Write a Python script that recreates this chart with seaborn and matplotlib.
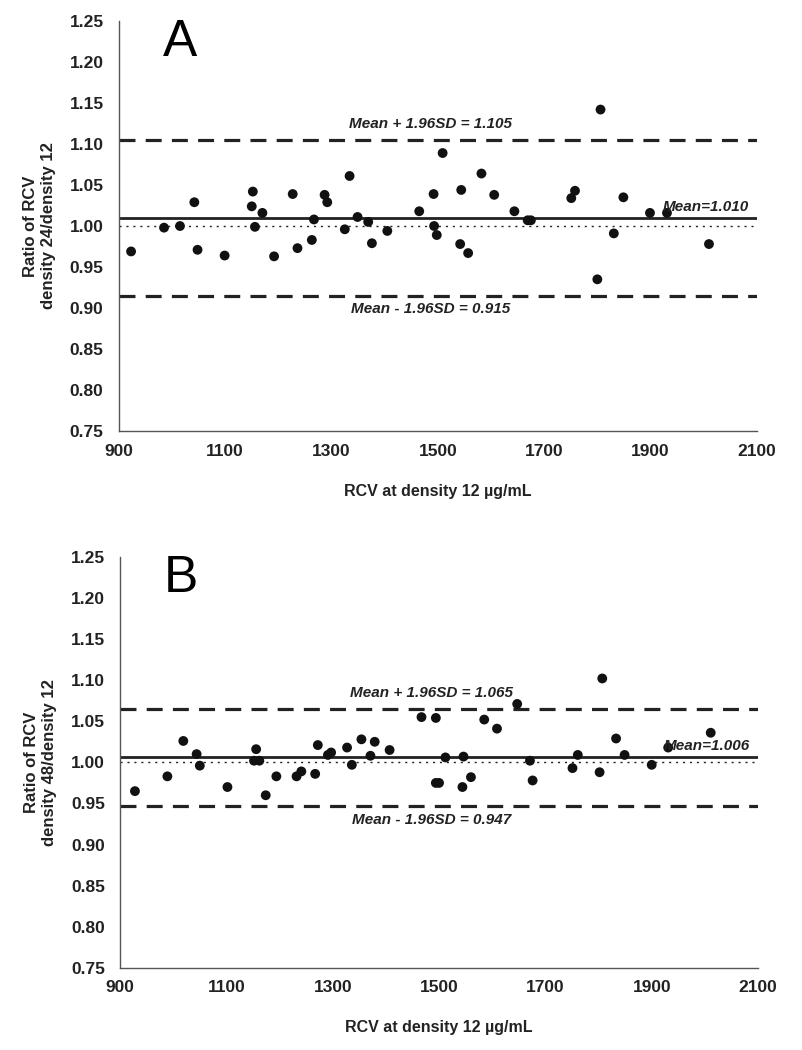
import numpy as np
import pandas as pd
import matplotlib
matplotlib.use("Agg")
import matplotlib.pyplot as plt
import seaborn as sns
from matplotlib.ticker import MultipleLocator, AutoMinorLocator

# Panel A: density 24 / density 12
a_rcv = [923, 985, 1015, 1042, 1048, 1099, 1150, 1152, 1156, 1170, 1192, 1227,
         1236, 1263, 1267, 1287, 1292, 1325, 1334, 1349, 1369, 1376, 1405, 1465,
         1492, 1493, 1498, 1509, 1542, 1544, 1557, 1582, 1606, 1644, 1669, 1675,
         1751, 1758, 1806, 1800, 1831, 1849, 1899, 1931, 2010]
a_ratio = [0.969, 0.998, 1.000, 1.029, 0.971, 0.964, 1.024, 1.042, 0.999, 1.016,
           0.963, 1.039, 0.973, 0.983, 1.008, 1.038, 1.029, 0.996, 1.061, 1.011,
           1.005, 0.979, 0.994, 1.018, 1.039, 1.000, 0.989, 1.089, 0.978, 1.044,
           0.967, 1.064, 1.038, 1.018, 1.007, 1.007, 1.034, 1.043, 1.142, 0.935,
           0.991, 1.035, 1.016, 1.016, 0.978]
a_stats = [1.010, 1.105, 0.915]   # mean, upper, lower

# Panel B: density 48 / density 12
b_rcv = [928, 989, 1019, 1044, 1050, 1102, 1156, 1152, 1162, 1174, 1194, 1232,
         1241, 1267, 1272, 1291, 1297, 1327, 1336, 1354, 1371, 1379, 1407, 1467,
         1494, 1494, 1500, 1512, 1546, 1544, 1560, 1585, 1609, 1647, 1671, 1676,
         1751, 1761, 1807, 1802, 1833, 1849, 1900, 1931, 2011]
b_ratio = [0.965, 0.983, 1.026, 1.010, 0.996, 0.970, 1.016, 1.002, 1.002, 0.960,
           0.983, 0.983, 0.989, 0.986, 1.021, 1.009, 1.012, 1.018, 0.997, 1.028,
           1.008, 1.025, 1.015, 1.055, 1.054, 0.975, 0.975, 1.006, 1.007, 0.970,
           0.982, 1.052, 1.041, 1.071, 1.002, 0.978, 0.993, 1.009, 1.102, 0.988,
           1.029, 1.009, 0.997, 1.018, 1.036]
b_stats = [1.006, 1.065, 0.947]

x_ticks = [900, 1100, 1300, 1500, 1700, 1900, 2100]
ylabels = ["Ratio of RCV\ndensity 24/density 12", "Ratio of RCV\ndensity 48/density 12"]
letters = ["A", "B"]
xlabel = "RCV at density 12 \u00b5g/mL"

sns.set_style("white")
plt.rcParams['font.family'] = ['Liberation Sans', 'DejaVu Sans']
ink = "#222222"

fig = plt.figure(figsize=(8.03, 10.5), dpi=100)
ax_a = fig.add_axes([0.148, 0.5895, 0.7945, 0.3905])
ax_b = fig.add_axes([0.1495, 0.0781, 0.7945, 0.3917])


def draw_panel(ax, xs, ys, stats, ylab, letter):
    df = pd.DataFrame({"rcv": xs, "ratio": ys})
    mean, upper, lower = stats
    ax.axhline(1.0, color=ink, lw=1.0, ls=(0, (1.5, 3.5)), zorder=1)
    ax.axhline(mean, color=ink, lw=2.0, zorder=1)
    for v in (upper, lower):
        ax.axhline(v, color=ink, lw=2.3, ls=(0, (5, 3.2)), zorder=1)
    sns.scatterplot(data=df, x="rcv", y="ratio", ax=ax, color="#111111",
                    s=50, edgecolor="none", zorder=3)
    ax.set_xlim(900, 2100)
    ax.set_ylim(0.75, 1.25)
    ax.set_xticks(x_ticks)
    ax.xaxis.set_minor_locator(AutoMinorLocator(5))
    ax.yaxis.set_major_locator(MultipleLocator(0.05))
    ax.yaxis.set_minor_locator(AutoMinorLocator(5))
    ax.yaxis.set_major_formatter(plt.FormatStrFormatter("%.2f"))
    for side in ("top", "right"):
        ax.spines[side].set_visible(False)
    for side in ("left", "bottom"):
        ax.spines[side].set_color("#555555")
        ax.spines[side].set_linewidth(1.0)
    ax.tick_params(which="major", direction="out", length=5, width=1,
                   color="#555555", labelsize=12.5, labelcolor=ink, pad=6)
    ax.tick_params(which="minor", direction="out", length=3, width=0.8,
                   color="#777777")
    ax.tick_params(axis="x", which="major", pad=4)
    for lab in ax.get_xticklabels() + ax.get_yticklabels():
        lab.set_fontweight("bold")
    ax.set_xlabel(xlabel, fontsize=11.5, fontweight="bold", color=ink, labelpad=18)
    ax.set_ylabel(ylab, fontsize=12, fontweight="bold", color=ink, labelpad=10)
    txt = dict(fontsize=11, fontweight="bold", fontstyle="italic", color=ink)
    ax.text(1486, upper + 0.011, f"Mean + 1.96SD = {upper:.3f}", ha="center",
            va="bottom", **txt)
    ax.text(1486, lower - 0.008, f"Mean - 1.96SD = {lower:.3f}", ha="center",
            va="top", **txt)
    ax.text(2085, mean + 0.005, f"Mean={mean:.3f}", ha="right", va="bottom", **txt)
    ax.text(983, 1.2535, letter, fontsize=37, color="black", ha="left", va="top",
            clip_on=False)


draw_panel(ax_a, a_rcv, a_ratio, a_stats, ylabels[0], letters[0])
draw_panel(ax_b, b_rcv, b_ratio, b_stats, ylabels[1], letters[1])

fig.savefig("out.png", dpi=100)
